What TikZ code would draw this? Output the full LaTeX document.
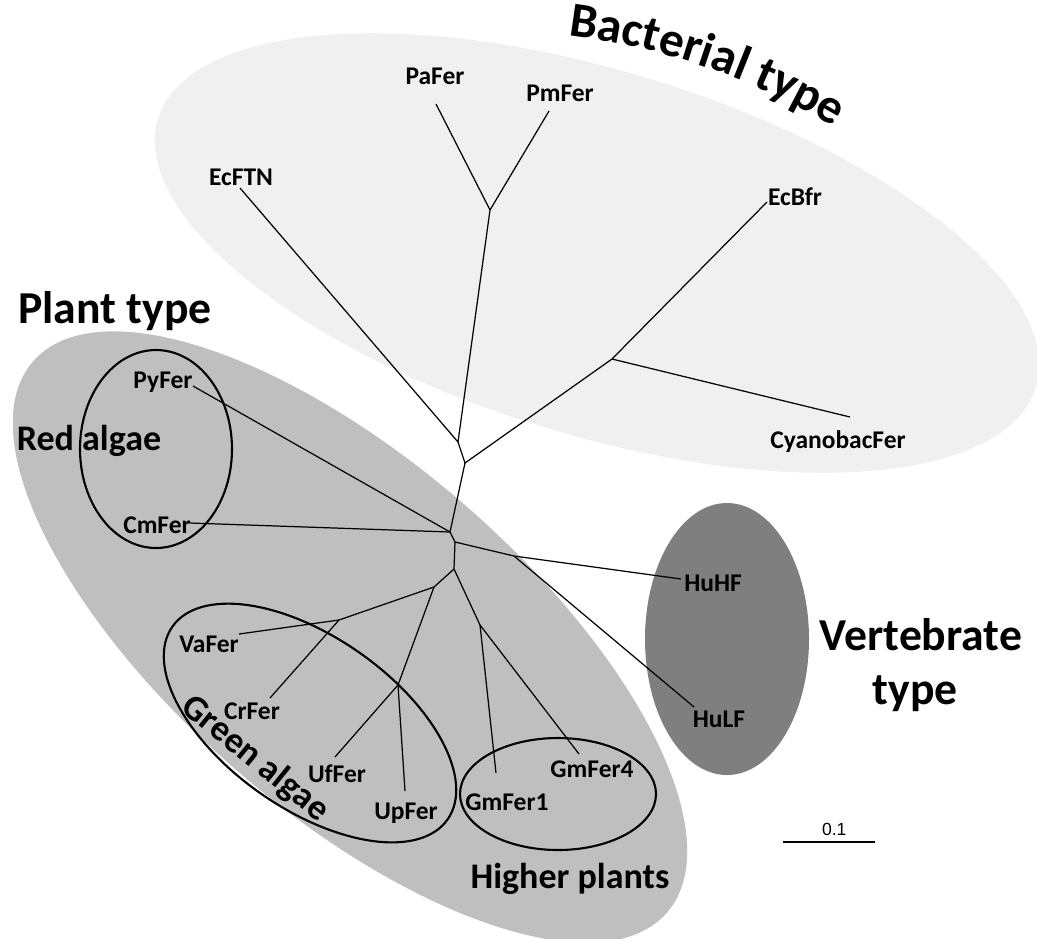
\documentclass[tikz,border=0pt]{standalone}
\usepackage{fontspec}
\setmainfont{Carlito}
\setsansfont{Liberation Sans}
\usetikzlibrary{decorations.text}
\definecolor{bacgray}{RGB}{240,240,240}
\definecolor{plantgray}{RGB}{191,191,191}
\definecolor{vertgray}{RGB}{127,127,127}
\newcommand{\bacfont}{\fontsize{28}{30}\selectfont\bfseries}

\begin{document}
\begin{tikzpicture}[x=0.02cm,y=0.02cm,
  leaf/.style={font=\fontsize{14.5}{16}\selectfont\bfseries,inner sep=0pt,text depth=0pt},
  bigtag/.style={font=\fontsize{26}{30}\selectfont\bfseries,inner sep=0pt,anchor=base},
  midtag/.style={font=\fontsize{20.5}{24}\selectfont\bfseries,inner sep=0pt,anchor=base},
  branch/.style={line width=0.7pt},
  ring/.style={line width=1.2pt}]
  \useasboundingbox (0,0) rectangle (1037,-938);
  % Groups
  \fill[bacgray,rotate around={-17:(597,-253)}] (597,-253) ellipse [x radius=459,y radius=182];
  \fill[plantgray,rotate around={-41:(350,-637)}] (350,-637) ellipse [x radius=420,y radius=175];
  \fill[vertgray] (727,-639) ellipse [x radius=82,y radius=136];
  % Subgroups
  \draw[ring] (156,-449) ellipse [x radius=76,y radius=99];
  \draw[ring,rotate around={-35:(310,-723)}] (310,-723) ellipse [x radius=168,y radius=86];
  \draw[ring] (558,-794) ellipse [x radius=98,y radius=56];
  % Inner branch points
  \coordinate (jA) at (458,-442);
  \coordinate (jB) at (465,-463);
  \coordinate (jC) at (450,-532);
  \coordinate (jD) at (455,-542);
  \coordinate (jE) at (454,-569);
  \coordinate (jF) at (434,-587);
  \coordinate (jG) at (339,-620);
  \coordinate (jH) at (398,-685);
  \coordinate (jI) at (480,-625);
  \coordinate (jJ) at (490,-210);
  \coordinate (jK) at (612,-359);
  \coordinate (jL) at (514,-556);
  % Tips
  \coordinate (tPa) at (436,-104);
  \coordinate (tPm) at (549,-111);
  \coordinate (tEcFTN) at (240,-188);
  \coordinate (tEcBfr) at (767,-202);
  \coordinate (tCyano) at (850,-417);
  \coordinate (tPy) at (193,-386);
  \coordinate (tCm) at (190,-523);
  \coordinate (tHuHF) at (681,-579);
  \coordinate (tHuLF) at (694,-707);
  \coordinate (tVa) at (239,-634);
  \coordinate (tCr) at (270,-698);
  \coordinate (tUf) at (335,-757);
  \coordinate (tUp) at (405,-791);
  \coordinate (tGm1) at (496,-773);
  \coordinate (tGm4) at (579,-754);
  % Tree
  \draw[branch] (tEcFTN) -- (jA) -- (jJ) -- (tPa);
  \draw[branch] (jJ) -- (tPm);
  \draw[branch] (jA) -- (jB) -- (jK) -- (tEcBfr);
  \draw[branch] (jK) -- (tCyano);
  \draw[branch] (jB) -- (jC) -- (tPy);
  \draw[branch] (jC) -- (tCm);
  \draw[branch] (jC) -- (jD) -- (jL) -- (tHuHF);
  \draw[branch] (jL) -- (tHuLF);
  \draw[branch] (jD) -- (jE) -- (jF) -- (jG) -- (tVa);
  \draw[branch] (jG) -- (tCr);
  \draw[branch] (jF) -- (jH) -- (tUf);
  \draw[branch] (jH) -- (tUp);
  \draw[branch] (jE) -- (jI) -- (tGm1);
  \draw[branch] (jI) -- (tGm4);
  % Leaf labels
  \node[leaf] (pafer) at (435,-76) {PaFer};
  \node[leaf] (pmfer) at (560,-93) {PmFer};
  \node[leaf] (ecftn) at (241,-177) {EcFTN};
  \node[leaf] (ecbfr) at (795,-197) {EcBfr};
  \node[leaf] (cyano) at (838,-440) {CyanobacFer};
  \node[leaf] (pyfer) at (163,-380) {PyFer};
  \node[leaf] (cmfer) at (157,-525) {CmFer};
  \node[leaf] (huhf) at (713,-583) {HuHF};
  \node[leaf] (hulf) at (719,-719) {HuLF};
  \node[leaf] (vafer) at (209,-644) {VaFer};
  \node[leaf] (crfer) at (252,-711) {CrFer};
  \node[leaf] (uffer) at (337,-774) {UfFer};
  \node[leaf] (upfer) at (406,-811) {UpFer};
  \node[leaf] (gmfer1) at (507,-802) {GmFer1};
  \node[leaf] (gmfer4) at (592,-769) {GmFer4};
  % Group names
  \path[decorate,decoration={text along path,text={|\bacfont|Bacterial type},text align=center}]
    (484,-712) ++(84:682) arc[start angle=84,end angle=58,radius=682];
  \node[bigtag] (planttag) at (115,-323) {Plant type};
  \node[bigtag] (verttag) at (921,-650) {Vertebrate};
  \node[bigtag] (verttag2) at (915,-704) {type};
  \node[midtag] (redtag) at (89,-450) {Red algae};
  \node[midtag] (hightag) at (570,-888) {Higher plants};
  \node[midtag,anchor=center,rotate=-39] (greentag) at (255,-759) {Green algae};
  % Scale bar
  \coordinate (sbl) at (783,-842);
  \coordinate (sbr) at (875,-842);
  \draw[line width=1.1pt] (sbl) -- (sbr)
    node[midway,above=3pt,xshift=3,inner sep=0pt,font=\sffamily\fontsize{10}{11}\selectfont] (sbtext) {0.1};
\end{tikzpicture}
\end{document}
